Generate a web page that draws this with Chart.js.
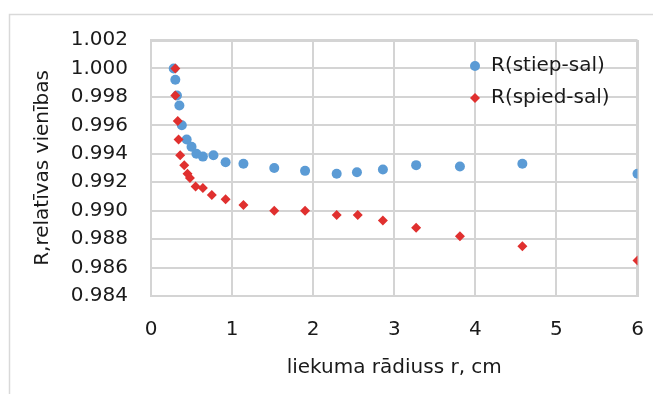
<!DOCTYPE html>
<html>
<head>
<meta charset="utf-8">
<script src="https://cdn.jsdelivr.net/npm/chart.js@4/dist/chart.umd.min.js"></script>
<style>
  html, body { margin: 0; padding: 0; background: #ffffff; }
  #wrap { width: 653px; height: 394px; position: relative; }
</style>
</head>
<body>
<div id="wrap"><canvas id="c" width="653" height="394"></canvas></div>
<script>
// Bend radius r (cm) and relative resistance for the stretched side
const radiusStiep = [0.28, 0.30, 0.32, 0.35, 0.38, 0.44, 0.50, 0.56, 0.64, 0.77, 0.92, 1.14, 1.52, 1.90, 2.29, 2.54, 2.86, 3.27, 3.81, 4.58, 6.00];
const valuesStiep = [1.0000, 0.9992, 0.9981, 0.9974, 0.9960, 0.9950, 0.9945, 0.9940, 0.9938, 0.9939, 0.9934, 0.9933, 0.9930, 0.9928, 0.9926, 0.9927, 0.9929, 0.9932, 0.9931, 0.9933, 0.9926];

// Bend radius r (cm) and relative resistance for the compressed side
const radiusSpied = [0.30, 0.30, 0.33, 0.34, 0.36, 0.41, 0.45, 0.48, 0.55, 0.64, 0.75, 0.92, 1.14, 1.52, 1.90, 2.29, 2.55, 2.86, 3.27, 3.81, 4.58, 6.00];
const valuesSpied = [1.0000, 0.9981, 0.9963, 0.9950, 0.9939, 0.9932, 0.9926, 0.9923, 0.9917, 0.9916, 0.9911, 0.9908, 0.9904, 0.9900, 0.9900, 0.9897, 0.9897, 0.9893, 0.9888, 0.9882, 0.9875, 0.9865];

const seriesNames = ['R(stiep-sal)', 'R(spied-sal)'];
const xTicks = [0, 1, 2, 3, 4, 5, 6];
const yTicks = [0.984, 0.986, 0.988, 0.990, 0.992, 0.994, 0.996, 0.998, 1.000, 1.002];
const xTitle = 'liekuma rādiuss r, cm';
const yTitle = 'R,relatīvas vienības';

const FONT = '"DejaVu Sans", "Noto Sans", sans-serif';
const TEXT = '#1a1a1a';
const GRID = '#d4d4d4';
const GRID_W = 2;
const BLUE = '#5b9bd5';
const RED = '#e0302f';

function toPoints(xs, ys) { return xs.map((x, i) => ({ x: x, y: ys[i] })); }

// Light frame along the top and left edges of the chart
const framePlugin = {
  id: 'frame',
  beforeDraw(chart) {
    const ctx = chart.ctx;
    ctx.save();
    ctx.strokeStyle = '#d9d9d9';
    ctx.lineWidth = 1.5;
    ctx.beginPath();
    ctx.moveTo(9.5, chart.height);
    ctx.lineTo(9.5, 14.5);
    ctx.lineTo(chart.width, 14.5);
    ctx.stroke();
    ctx.restore();
  }
};

// Closing gridlines along the far ends of both scales
const plotOutline = {
  id: 'plotOutline',
  beforeDatasetsDraw(chart) {
    const { ctx, scales: { x, y } } = chart;
    const xr = Math.round(x.getPixelForValue(x.max)) - 1;
    const yt = Math.round(y.getPixelForValue(y.max)) + 1;
    const xl = x.getPixelForValue(x.min);
    const yb = y.getPixelForValue(y.min);
    ctx.save();
    ctx.strokeStyle = GRID;
    ctx.lineWidth = GRID_W;
    ctx.beginPath();
    ctx.moveTo(xl, yt);
    ctx.lineTo(xr, yt);
    ctx.lineTo(xr, yb);
    ctx.stroke();
    ctx.restore();
  }
};

// Legend drawn inside the plot area, top right
const insideLegend = {
  id: 'insideLegend',
  afterDraw(chart) {
    const ctx = chart.ctx;
    const area = chart.chartArea;
    const mx = Math.round(area.right) - 163;
    const tx = mx + 16;
    const y0 = area.top + 26;
    const dy = 32;
    ctx.save();
    ctx.font = '20px ' + FONT;
    ctx.textBaseline = 'middle';
    ctx.textAlign = 'left';
    chart.data.datasets.forEach((ds, i) => {
      const y = y0 + i * dy;
      ctx.fillStyle = ds.backgroundColor;
      ctx.strokeStyle = ds.backgroundColor;
      Chart.helpers.drawPoint(ctx, { pointStyle: ds.pointStyle, radius: ds.pointRadius, rotation: 0, borderWidth: 0 }, mx, y);
      ctx.fillStyle = TEXT;
      ctx.fillText(ds.label, tx, y);
    });
    ctx.restore();
  }
};

new Chart(document.getElementById('c'), {
  type: 'scatter',
  data: {
    datasets: [
      {
        label: seriesNames[0],
        data: toPoints(radiusStiep, valuesStiep),
        pointStyle: 'circle',
        pointRadius: 5,
        pointHoverRadius: 5,
        backgroundColor: BLUE,
        borderColor: BLUE,
        borderWidth: 0,
        order: 2
      },
      {
        label: seriesNames[1],
        data: toPoints(radiusSpied, valuesSpied),
        pointStyle: 'rectRot',
        pointRadius: 5,
        pointHoverRadius: 5,
        backgroundColor: RED,
        borderColor: RED,
        borderWidth: 0,
        order: 1
      }
    ]
  },
  options: {
    responsive: false,
    animation: false,
    devicePixelRatio: 1,
    layout: { padding: { left: 0, top: 40, right: 15.5, bottom: 0 } },
    plugins: { legend: { display: false }, tooltip: { enabled: false } },
    scales: {
      x: {
        type: 'linear',
        min: xTicks[0],
        max: xTicks[xTicks.length - 1],
        afterBuildTicks(scale) { scale.ticks = xTicks.map(v => ({ value: v })); },
        afterFit(scale) { scale.height = 98; scale.paddingLeft = 0; scale.paddingRight = 0; },
        grid: { color: GRID, lineWidth: GRID_W, drawTicks: false },
        border: { color: GRID, width: GRID_W },
        ticks: { color: TEXT, font: { family: FONT, size: 20 }, padding: 22, callback: v => String(v) },
        title: { display: true, text: xTitle, color: TEXT, font: { family: FONT, size: 20 }, padding: { top: 0, bottom: 14 } }
      },
      y: {
        type: 'linear',
        min: yTicks[0],
        max: yTicks[yTicks.length - 1],
        afterBuildTicks(scale) { scale.ticks = yTicks.map(v => ({ value: v })); },
        afterFit(scale) { scale.width = 151; },
        grid: { color: GRID, lineWidth: GRID_W, drawTicks: false },
        border: { color: GRID, width: GRID_W },
        ticks: { color: TEXT, font: { family: FONT, size: 20 }, padding: 23, callback: v => v.toFixed(3) },
        title: { display: true, text: yTitle, color: TEXT, font: { family: FONT, size: 20 }, padding: { top: 31, bottom: 0 } }
      }
    }
  },
  plugins: [framePlugin, plotOutline, insideLegend]
});
</script>
</body>
</html>
